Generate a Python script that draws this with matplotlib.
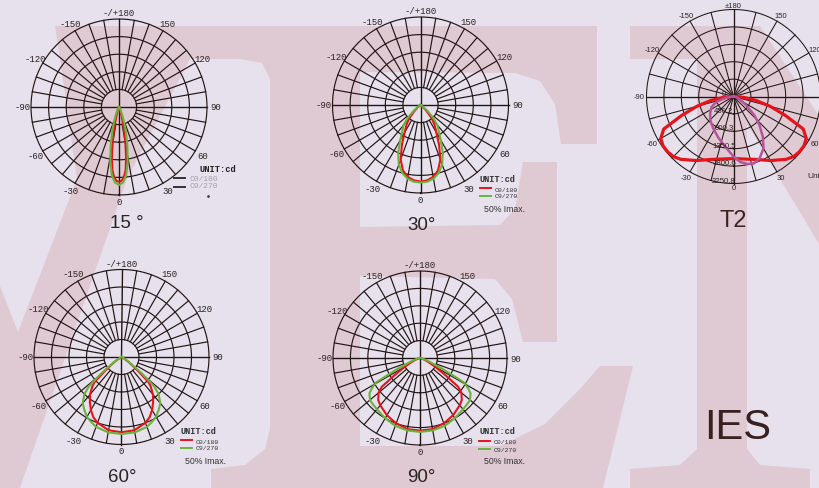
import numpy as np
import matplotlib
matplotlib.use("Agg")
import matplotlib.pyplot as plt
from matplotlib.patches import Polygon

W, H = 819, 489
BG = "#e6e1ec"
WM = "#dfcad3"
GRID = "#231515"
RED = "#e5141b"
GREEN = "#6ab23e"
MAGENTA = "#b4559c"
TXT = "#2b2222"

# ---- photometric data (angle from nadir in degrees, value relative to outer ring) ----
ang_15_red = [0, 2, 4, 6, 8, 10, 12, 15, 20, 30, 90]
val_15_red = [0.85, 0.84, 0.80, 0.72, 0.58, 0.42, 0.28, 0.14, 0.05, 0.02, 0.0]
ang_15_green = [0, 3, 6, 9, 12, 15, 18, 22, 30, 90]
val_15_green = [0.886, 0.86, 0.78, 0.63, 0.46, 0.31, 0.20, 0.10, 0.03, 0.0]

ang_30 = [0, 5, 10, 15, 20, 25, 30, 35, 40, 45, 50, 60, 90]
val_30_red = [0.87, 0.86, 0.83, 0.77, 0.66, 0.50, 0.36, 0.28, 0.20, 0.10, 0.04, 0.01, 0.0]
val_30_green = [0.88, 0.875, 0.85, 0.80, 0.72, 0.60, 0.46, 0.36, 0.30, 0.20, 0.10, 0.02, 0.0]

ang_60_red = [0, 10, 20, 25, 30, 35, 40, 45, 47, 50, 55, 60, 90]
val_60_red = [0.86, 0.85, 0.80, 0.76, 0.70, 0.63, 0.56, 0.47, 0.42, 0.25, 0.10, 0.03, 0.0]
ang_60_green = [0, 10, 20, 25, 30, 35, 40, 45, 48, 51, 55, 60, 70, 90]
val_60_green = [0.88, 0.875, 0.85, 0.82, 0.79, 0.74, 0.69, 0.60, 0.50, 0.30, 0.12, 0.04, 0.01, 0.0]

ang_90_red = [0, 10, 20, 30, 40, 45, 50, 53, 56, 60, 65, 70, 80, 90]
val_90_red = [0.835, 0.83, 0.80, 0.76, 0.71, 0.68, 0.62, 0.55, 0.35, 0.20, 0.10, 0.04, 0.01, 0.0]
ang_90_green = [0, 10, 20, 30, 40, 45, 50, 55, 58, 61, 64, 70, 80, 90]
val_90_green = [0.85, 0.845, 0.83, 0.80, 0.77, 0.76, 0.75, 0.71, 0.65, 0.57, 0.30, 0.10, 0.02, 0.0]

# T2 (cd)
t2_rings = [0, 450.2, 900.3, 1350.5, 1800.6, 2250.8]
ang_t2_red = [0, 10, 20, 30, 40, 45, 50, 55, 60, 65, 70, 75, 80, 85, 90]
val_t2_red = [1604, 1643, 1733, 1914, 2121, 2199, 2225, 2225, 2173, 1992, 1423, 983, 595, 259, 52]
ang_t2_mag = [-90, -80, -72, -65, -56, -45, -32, -20, -8, 0, 6, 12, 17, 23, 30, 36, 42, 48, 55, 65, 80, 90]
val_t2_mag = [0, 207, 466, 621, 724, 854, 983, 1138, 1345, 1552, 1707, 1785, 1811, 1733, 1552,
              1294, 1009, 724, 414, 181, 52, 0]

main_labels = {0: "0", 30: "30", 60: "60", 90: "90", 120: "120", 150: "150", 180: "-/+180",
               -150: "-150", -120: "-120", -90: "-90", -60: "-60", -30: "-30"}
t2_labels = {0: "0", 30: "30", 60: "60", 90: "90", 120: "120", 150: "150", 180: "\u00b1180",
             -150: "-150", -120: "-120", -90: "-90", -60: "-60", -30: "-30"}


def mirror(angles, vals):
    a = np.asarray(angles, float)
    v = np.asarray(vals, float)
    th = np.concatenate([-a[::-1], a[1:]])
    r = np.concatenate([v[::-1], v[1:]])
    return np.radians(th), r


fig = plt.figure(figsize=(W / 100, H / 100), dpi=100, facecolor=BG)
bg = fig.add_axes([0, 0, 1, 1])
bg.set_xlim(0, W)
bg.set_ylim(H, 0)
bg.axis("off")
bg.set_facecolor(BG)

# watermark letters
letter_v = [(55, 27), (211, 27), (211, 60), (190, 60), (127, 180), (20, 489), (0, 489), (0, 287),
            (18, 333), (77, 180), (60, 60)]
letter_e = [(211, 27), (597, 27), (597, 145), (561, 145), (555, 105), (540, 82), (515, 74), (360, 73),
            (360, 228), (500, 226), (515, 210), (523, 163), (557, 163), (557, 343), (523, 343),
            (512, 300), (495, 280), (360, 277), (360, 447), (500, 447), (545, 425), (580, 390),
            (600, 367), (633, 367), (603, 489), (211, 489), (211, 470), (245, 466), (265, 450),
            (270, 430), (270, 80), (262, 64), (240, 60), (211, 60)]
letter_n = [(630, 27), (760, 27), (819, 117), (819, 245), (747, 125), (747, 450), (760, 466),
            (810, 470), (810, 489), (630, 489), (630, 470), (680, 466), (697, 450), (697, 60), (630, 60)]
for pts in (letter_v, letter_e, letter_n):
    bg.add_patch(Polygon(pts, closed=True, facecolor=WM, edgecolor="none", zorder=0))


def polar_at(cx, cy, R, rmax):
    ax = fig.add_axes([(cx - R) / W, 1 - (cy + R) / H, 2 * R / W, 2 * R / H], projection="polar")
    ax.set_theta_zero_location("S")
    ax.set_theta_direction(1)
    ax.set_axis_off()
    ax.set_ylim(0, rmax)
    return ax


def main_chart(cx, cy, R, curves, title, tdx, tdy, legend="color"):
    ax = polar_at(cx, cy, R, 1.0)
    t = np.linspace(0, 2 * np.pi, 361)
    for k in range(1, 6):
        ax.plot(t, np.full_like(t, k * 0.2), color=GRID, lw=0.85, clip_on=False)
    for a in range(0, 360, 10):
        r0 = 0 if a % 90 == 0 else 0.2
        ax.plot([np.radians(a)] * 2, [r0, 1.0], color=GRID, lw=0.85 if a % 90 else 1.0, clip_on=False)
    for a, lab in main_labels.items():
        rr = 1.07 if abs(a) in (0, 180) else 1.1
        ax.text(np.radians(a), rr, lab, ha="center", va="center", fontsize=6.5,
                family="Liberation Mono", color=TXT)
    for (angs, vals, col) in curves:
        th, r = mirror(angs, vals)
        ax.plot(th, r, color=col, lw=1.5, clip_on=False)

    bg.text(cx + tdx, cy + tdy, title, ha="center", va="center", fontsize=13.5,
            family="Liberation Sans", color=TXT)
    if legend == "gray":
        bg.text(cx + 80, cy + 61, "UNIT:cd", ha="left", va="center", fontsize=6.3,
                family="Liberation Mono", weight="bold", color="#222222")
        bg.plot([cx + 55, cx + 66], [cy + 71, cy + 71], color="#333333", lw=1.4)
        bg.plot([cx + 55, cx + 66], [cy + 80, cy + 80], color="#333333", lw=1.4)
        bg.text(cx + 71, cy + 71.5, "C0/180", ha="left", va="center", fontsize=5.8,
                family="Liberation Mono", color="#a4a0a8")
        bg.text(cx + 71, cy + 78.5, "C9/270", ha="left", va="center", fontsize=5.8,
                family="Liberation Mono", color="#a4a0a8")
        bg.plot([cx + 89], [cy + 89], marker="o", ms=0.9, color="#333333")
    else:
        bg.text(cx + 59, cy + 73, "UNIT:cd", ha="left", va="center", fontsize=6.2,
                family="Liberation Mono", weight="bold", color="#333333")
        bg.plot([cx + 59, cx + 70], [cy + 83, cy + 83], color=RED, lw=1.4)
        bg.plot([cx + 59, cx + 70], [cy + 91, cy + 91], color=GREEN, lw=1.4)
        bg.text(cx + 74, cy + 84, "C0/180", ha="left", va="center", fontsize=4.6,
                family="Liberation Mono", color="#333333")
        bg.text(cx + 74, cy + 91, "C9/270", ha="left", va="center", fontsize=4.6,
                family="Liberation Mono", color="#333333")
        bg.text(cx + 84, cy + 103, "50% Imax.", ha="center", va="center", fontsize=6.3,
                family="Liberation Sans", color="#333333")
    return ax


main_chart(119, 108, 88, [(ang_15_red, val_15_red, RED), (ang_15_green, val_15_green, GREEN)],
           "15 \u00b0", 8, 115, legend="gray")
main_chart(420.5, 106, 88, [(ang_30, val_30_red, RED), (ang_30, val_30_green, GREEN)],
           "30\u00b0", 1, 120)
main_chart(121.5, 358, 87.5, [(ang_60_red, val_60_red, RED), (ang_60_green, val_60_green, GREEN)],
           "60\u00b0", 1, 120)
main_chart(420, 359, 87, [(ang_90_red, val_90_red, RED), (ang_90_green, val_90_green, GREEN)],
           "90\u00b0", 1, 118)

# ---- T2 chart ----
cx, cy, R = 733.5, 97.5, 87
rmax = t2_rings[-1]
ax = polar_at(cx, cy, R, rmax)
t = np.linspace(0, 2 * np.pi, 361)
for rv in t2_rings[1:]:
    ax.plot(t, np.full_like(t, rv), color=GRID, lw=0.75, clip_on=False)
for a in range(0, 360, 15):
    ax.plot([np.radians(a)] * 2, [0, rmax], color=GRID, lw=0.75 if a % 90 else 0.95, clip_on=False)
for a, lab in t2_labels.items():
    rr = 1.05 if abs(a) in (0, 180) else 1.08
    ax.text(np.radians(a), rr * rmax, lab, ha="center", va="center", fontsize=5.5,
            family="Liberation Sans", color=TXT)
for rv in t2_rings:
    ax.annotate(f"{rv:g}" if rv else "0", xy=(0, rv), xytext=(-7, 2.5), textcoords="offset points",
                ha="center", va="center", fontsize=5.6, family="Liberation Sans", color=TXT)
th, r = mirror(ang_t2_red, val_t2_red)
ax.plot(th, r, color=RED, lw=2.3, clip_on=False)
ax.plot(np.radians(ang_t2_mag), val_t2_mag, color=MAGENTA, lw=1.8, clip_on=False)

bg.text(807, 176, "Unit:cd", ha="left", va="center", fontsize=6, family="Liberation Sans", color=TXT)
bg.text(733.5, 221, "T2", ha="center", va="center", fontsize=17, family="Liberation Sans", color="#3a2424")
bg.text(738, 428, "IES", ha="center", va="center", fontsize=30, family="Liberation Sans", color="#3a2020")

fig.savefig("out.png", dpi=100, facecolor=BG)
